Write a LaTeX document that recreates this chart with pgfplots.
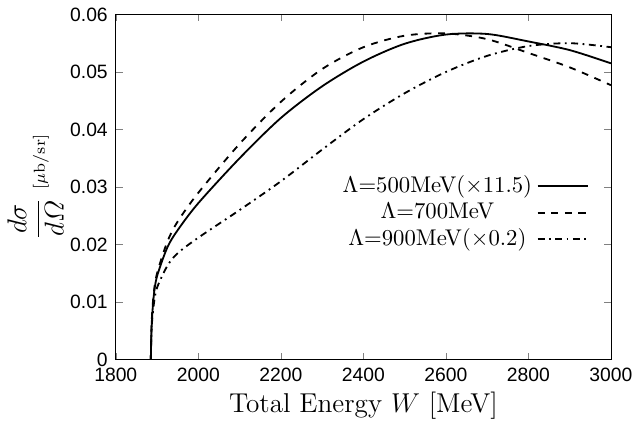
\documentclass[border=0pt]{standalone}
\usepackage{amsmath}
\usepackage{pgfplots}
\pgfplotsset{compat=1.18}
\usepackage{fontspec}
\newfontfamily\arial{Liberation Sans}
\begin{document}
\begin{tikzpicture}
\begin{axis}[scale only axis, width=218pt, height=152pt,
 xmin=1800, xmax=3000, ymin=0, ymax=0.06,
 xtick={1800,2000,...,3000}, ytick={0,0.01,...,0.06},
 tick label style={font=\arial\fontsize{8.5}{10}\selectfont},
 /pgf/number format/assume math mode=true,
 /pgf/number format/1000 sep={},
 yticklabel style={/pgf/number format/fixed,/pgf/number format/precision=2},
 scaled y ticks=false,
 tick align=inside, major tick length=3pt,
 xlabel={\fontsize{12}{14}\selectfont Total Energy $W$ [MeV]},
 xlabel style={yshift=2pt},
 ylabel={\fontsize{12}{14}\selectfont $\dfrac{d\sigma}{d\varOmega}$ {\scriptsize[$\mu$b/sr]}},
 ylabel style={yshift=-4pt},
 legend style={draw=none, fill=none, at={(0.97,0.56)}, anchor=north east, font=\fontsize{10}{12}\selectfont, row sep=-1pt},
 legend cell align=center, legend plot pos=right,
 legend image post style={xscale=1.3},
]
\addplot[black, thick, smooth] coordinates {(1885,0) (1887,0.006) (1892,0.011) (1900,0.0145) (1925,0.0195) (1950,0.0225) (2000,0.0272) (2100,0.035) (2200,0.042) (2300,0.0475) (2400,0.0518) (2500,0.0549) (2600,0.0565) (2700,0.0566) (2800,0.0553) (2900,0.0538) (3000,0.0515)};
\addlegendentry{$\Lambda$=500MeV($\times$11.5)}
\addplot[black, thick, dashed, smooth] coordinates {(1885,0) (1887,0.0065) (1892,0.0115) (1900,0.015) (1925,0.0205) (1950,0.024) (2000,0.029) (2100,0.0375) (2200,0.0448) (2300,0.0505) (2400,0.0543) (2500,0.0563) (2600,0.0567) (2700,0.0557) (2800,0.0533) (2900,0.0508) (3000,0.0477)};
\addlegendentry{$\Lambda$=700MeV}
\addplot[black, thick, dash dot, smooth] coordinates {(1885,0) (1887,0.0055) (1892,0.0095) (1900,0.0125) (1925,0.0163) (1950,0.0185) (2000,0.0212) (2100,0.026) (2200,0.031) (2300,0.0365) (2400,0.0418) (2500,0.0463) (2600,0.0500) (2700,0.0528) (2800,0.0545) (2900,0.0550) (3000,0.0543)};
\addlegendentry{$\Lambda$=900MeV($\times$0.2)}
\end{axis}
\end{tikzpicture}
\end{document}
